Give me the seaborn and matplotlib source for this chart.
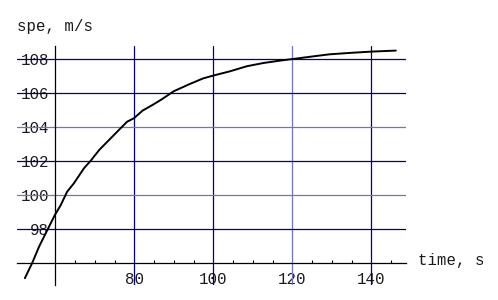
import matplotlib
matplotlib.use("Agg")
import matplotlib.pyplot as plt
from matplotlib.ticker import FixedLocator
import seaborn as sns
import pandas as pd

# ---- data ----
time_s = [52.3, 54.2, 55.9, 58.0, 59.9, 61.4, 63.0, 64.7, 67.3, 69.0, 71.1,
          73.6, 76.1, 78.2, 79.9, 82.1, 84.6, 86.8, 90.0, 94.1, 97.5, 100.0,
          104.2, 108.5, 112.7, 116.9, 120.3, 125.3, 129.4, 135.0, 140.0, 146.2]
speed = [95.12, 96.04, 96.98, 97.96, 98.84, 99.43, 100.21, 100.7, 101.6, 102.04, 102.66,
         103.25, 103.84, 104.33, 104.53, 104.98, 105.31, 105.62, 106.12, 106.55, 106.88, 107.04,
         107.29, 107.59, 107.78, 107.92, 108.02, 108.17, 108.29, 108.38, 108.45, 108.51]
x_ticks = [80, 100, 120, 140]
y_ticks = [98, 100, 102, 104, 106, 108]
x_minor = [65, 70, 75, 85, 90, 95, 105, 110, 115, 125, 130, 135, 145]
x_label = "time, s"
y_label = "spe, m/s"

DARK = "#000080"
LIGHT = "#7373c4"
x_grid_colors = [DARK, DARK, LIGHT, DARK]
y_grid_colors = [DARK, LIGHT, DARK, LIGHT, DARK, DARK]

sns.set_style("white")
plt.rcParams["font.family"] = ["Liberation Mono", "DejaVu Sans Mono"]

W, H = 498, 300
fig = plt.figure(figsize=(W / 100, H / 100), dpi=100)
left_px, right_px, top_px, bottom_px = 16.7, 405.7, 46.0, 285.0
ax = fig.add_axes([left_px / W, 1 - bottom_px / H,
                   (right_px - left_px) / W, (bottom_px - top_px) / H])

# grid lines (drawn explicitly so each can carry its own colour)
for xv, c in zip(x_ticks, x_grid_colors):
    ax.axvline(xv, color=c, linewidth=0.9, zorder=1)
for yv, c in zip(y_ticks, y_grid_colors):
    ax.axhline(yv, color=c, linewidth=0.9, zorder=1)

df = pd.DataFrame({"t": time_s, "v": speed})
sns.lineplot(data=df, x="t", y="v", ax=ax, color="black", linewidth=1.4,
             zorder=5, sort=False)

ax.set_xlim(50.23, 148.71)
ax.set_ylim(94.72, 108.78)

ax.set_xticks(x_ticks)
ax.set_yticks(y_ticks)
ax.xaxis.set_minor_locator(FixedLocator(x_minor))
ax.set_xlabel("")
ax.set_ylabel("")
ax.grid(False)

for s in ["top", "right"]:
    ax.spines[s].set_visible(False)
ax.spines["left"].set_position(("data", 60))
ax.spines["bottom"].set_position(("data", 96))
for s in ["left", "bottom"]:
    ax.spines[s].set_color("black")
    ax.spines[s].set_linewidth(0.9)
    ax.spines[s].set_zorder(3)

fs = 11.3
ax.tick_params(axis="x", which="major", length=0, pad=6, labelsize=fs,
               labelcolor="#1a1a1a")
ax.tick_params(axis="y", which="major", length=0, pad=4.5, labelsize=fs,
               labelcolor="#1a1a1a")
ax.tick_params(axis="x", which="minor", direction="in", length=2.5,
               width=0.8, color="black", bottom=True)

fig.text(16.7 / W, 1 - 26 / H, y_label, fontsize=fs, va="center", ha="left",
         color="#1a1a1a")
fig.text(418 / W, 1 - 261 / H, x_label, fontsize=fs, va="center", ha="left",
         color="#1a1a1a")

fig.savefig("out.png", dpi=100)
